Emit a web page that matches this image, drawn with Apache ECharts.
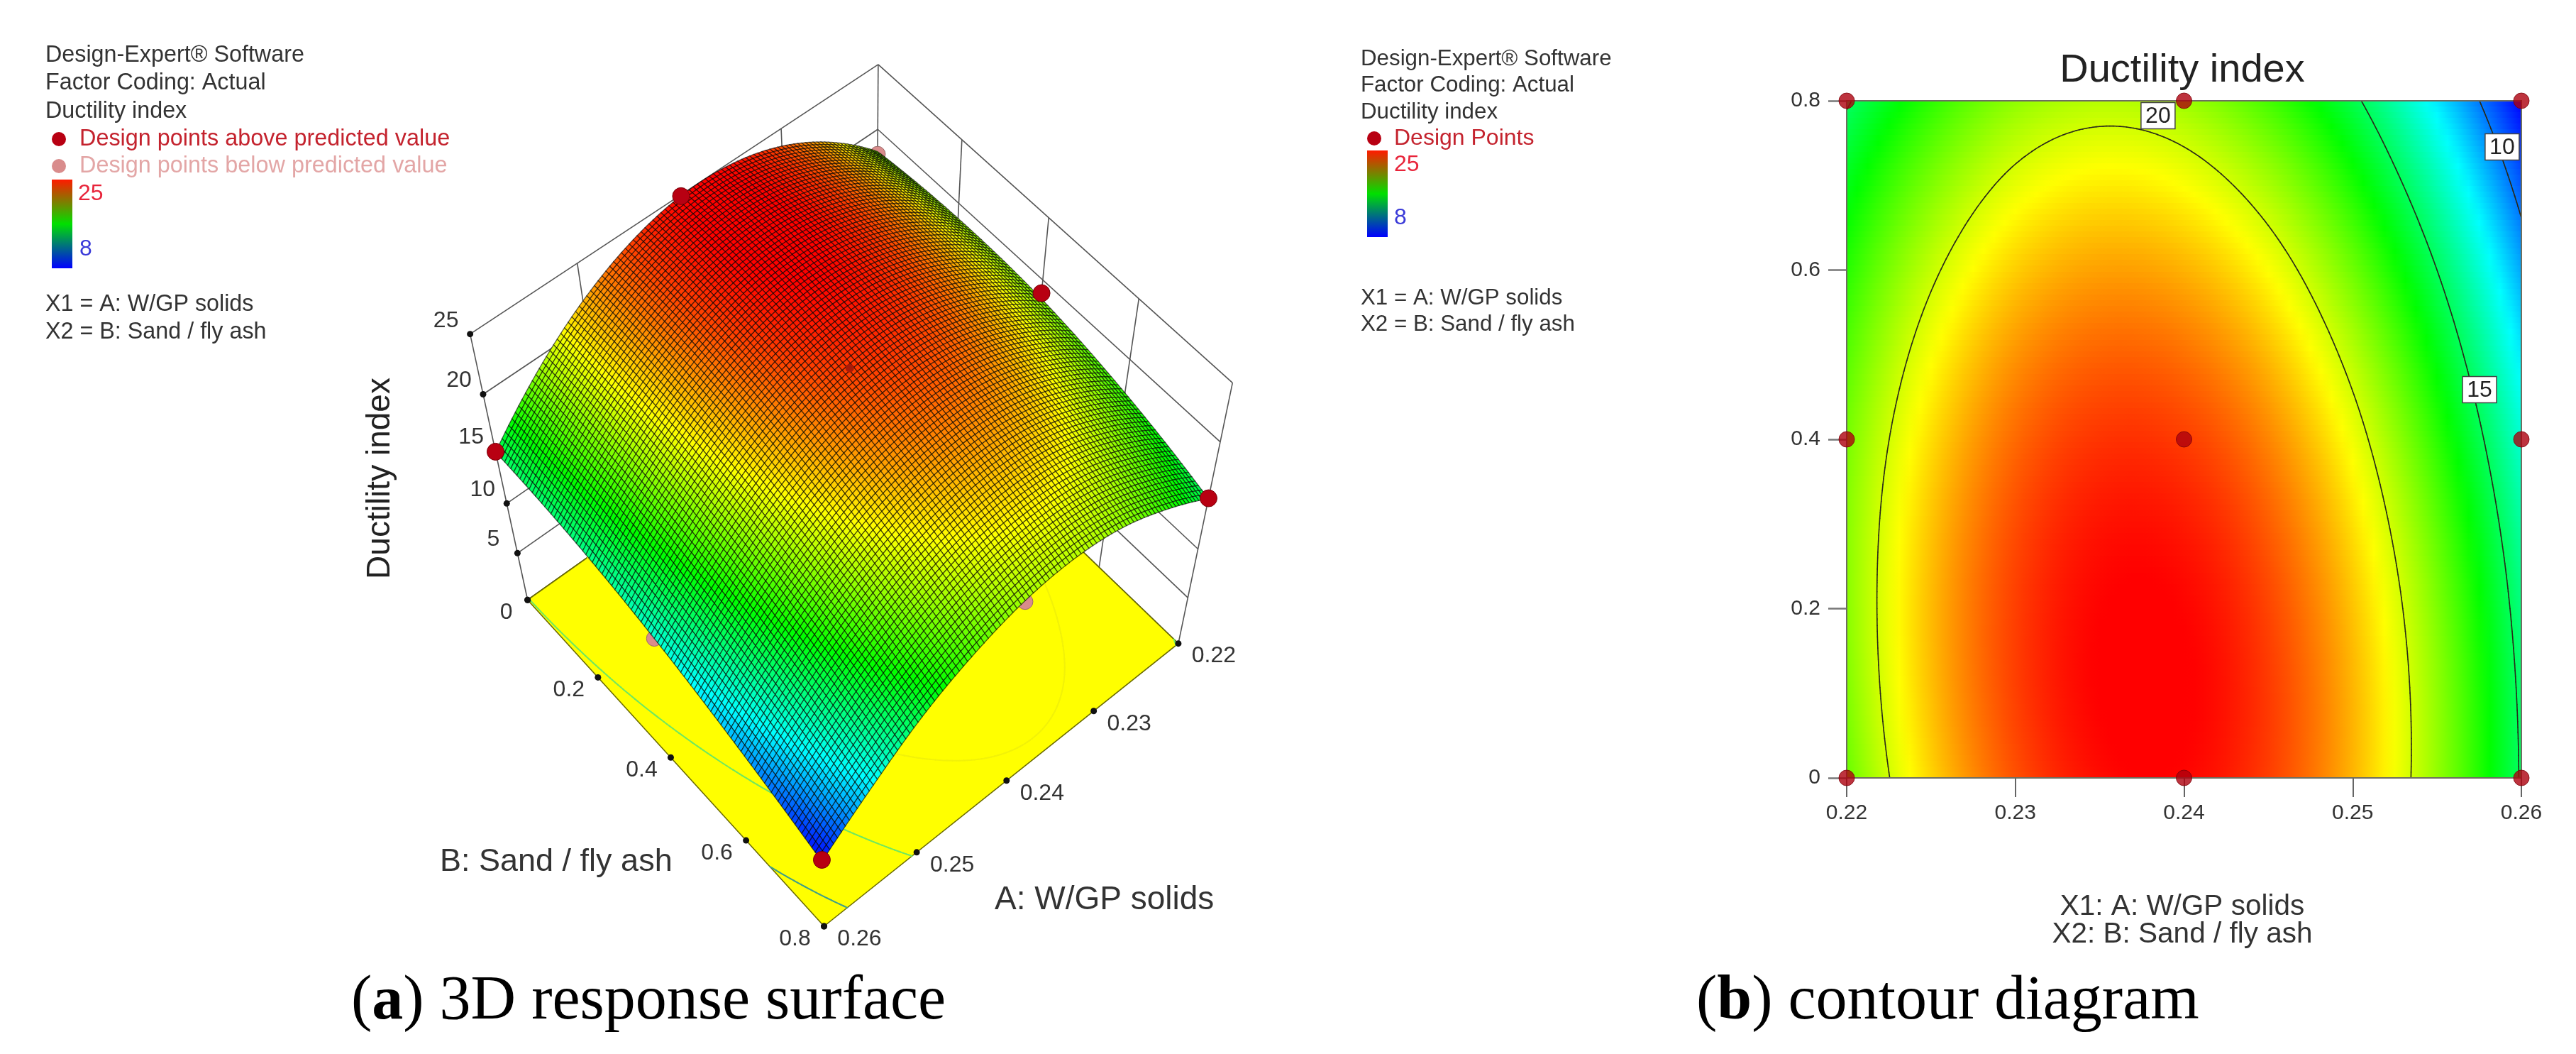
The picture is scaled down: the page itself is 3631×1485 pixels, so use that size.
<!DOCTYPE html>
<html><head><meta charset="utf-8">
<style>html,body{margin:0;padding:0;background:#fff}#c{width:3631px;height:1485px}</style>
<script src="https://cdn.jsdelivr.net/npm/echarts@6/dist/echarts.min.js"></script>
</head><body><div id="c"></div>
<script>
// ---------- values ----------
const aValues = [0.22, 0.225, 0.23, 0.235, 0.24, 0.245, 0.25, 0.255, 0.26];
const bValues = [0, 0.2, 0.4, 0.6, 0.8];
const zAtB00 = [18.21, 21.46, 23.66, 24.81, 24.92, 23.97, 21.98, 18.95, 14.86];
const zAtB02 = [18.76, 21.88, 23.95, 24.97, 24.95, 23.87, 21.75, 18.59, 14.37];
const zAtB04 = [18.45, 21.30, 23.24, 24.14, 23.98, 22.78, 20.53, 17.23, 13.00];
const zAtB06 = [17.10, 19.75, 21.56, 22.32, 22.04, 20.71, 18.33, 15.00, 10.80];
const zAtB08 = [14.85, 17.20, 18.88, 19.51, 19.10, 17.64, 15.30, 11.90, 8.00];
const designA = [0.22, 0.24, 0.26, 0.22, 0.24, 0.26, 0.22, 0.24, 0.26];
const designB = [0, 0, 0, 0.4, 0.4, 0.4, 0.8, 0.8, 0.8];
const designZ = [18.0, 24.9, 14.9, 18.9, 24.2, 13.0, 14.9, 19.0, 8.2];
const designKind = ['below', 'above', 'above', 'above', 'centre', 'below', 'above', 'below', 'above'];
const aTicks = [0.22, 0.23, 0.24, 0.25, 0.26];
const bTicks = [0, 0.2, 0.4, 0.6, 0.8];
const zTicks = [0, 5, 10, 15, 20, 25];
const contourLevels = [10, 15, 20];
const contourLabelA = [0.23846, 0.25752, 0.25886];
const contourLabelB = [0.7824, 0.4587, 0.7455];
const contourLabelText = ['20', '15', '10'];
const colorValues = [8, 12.25, 16.5, 20.75, 25];
const colorRamp = [[0, 0, 255], [0, 255, 255], [0, 255, 0], [255, 255, 0], [255, 0, 0]];

// ---------- shading surface from the table ----------
const zRows = [zAtB00, zAtB02, zAtB04, zAtB06, zAtB08];
const FONT = '"Liberation Sans", Arial, sans-serif';
const SERIF = '"Liberation Serif", "Times New Roman", serif';
const aMin = aValues[0], aMax = aValues[aValues.length - 1];
const bMin = bValues[0], bMax = bValues[bValues.length - 1];
function extend(arr) { const n = arr.length; return [3 * arr[0] - 3 * arr[1] + arr[2], ...arr, 3 * arr[n - 1] - 3 * arr[n - 2] + arr[n - 3]]; }
const ext = (function () {
  const rows = zRows.map(extend);
  const out = [];
  for (let i = 0; i < rows[0].length; i++) { const col = extend(rows.map(r => r[i])); col.forEach((v, j) => { (out[j] = out[j] || [])[i] = v; }); }
  return out;
})();
function cr(p0, p1, p2, p3, t) { return 0.5 * (2 * p1 + (p2 - p0) * t + (2 * p0 - 5 * p1 + 4 * p2 - p3) * t * t + (3 * p1 - p0 - 3 * p2 + p3) * t * t * t); }
function zAt(u, v) {
  const s = Math.min(u * (aValues.length - 1), aValues.length - 1.000001), t = Math.min(v * (bValues.length - 1), bValues.length - 1.000001);
  const i = Math.floor(s), j = Math.floor(t), fs = s - i, ft = t - j, col = [];
  for (let r = 0; r < 4; r++) { const R = ext[j + r]; col.push(cr(R[i], R[i + 1], R[i + 2], R[i + 3], fs)); }
  return cr(col[0], col[1], col[2], col[3], ft);
}
function colorOf(z) {
  if (z <= colorValues[0]) return 'rgb(' + colorRamp[0].join(',') + ')';
  for (let i = 1; i < colorValues.length; i++) {
    if (z <= colorValues[i]) {
      const f = (z - colorValues[i - 1]) / (colorValues[i] - colorValues[i - 1]);
      return 'rgb(' + colorRamp[i].map((c, k) => Math.round(colorRamp[i - 1][k] + (c - colorRamp[i - 1][k]) * f)).join(',') + ')';
    }
  }
  return 'rgb(255,0,0)';
}
function contourSegments(level, nu, nv) {
  const segs = [];
  for (let i = 0; i < nu; i++) for (let j = 0; j < nv; j++) {
    const u0 = i / nu, u1 = (i + 1) / nu, v0 = j / nv, v1 = (j + 1) / nv;
    const c = [[u0, v0], [u1, v0], [u1, v1], [u0, v1]], z = c.map(p => zAt(p[0], p[1]));
    const pts = [];
    for (let k = 0; k < 4; k++) {
      const m = (k + 1) % 4;
      if ((z[k] < level) !== (z[m] < level)) {
        const f = (level - z[k]) / (z[m] - z[k]);
        pts.push([c[k][0] + (c[m][0] - c[k][0]) * f, c[k][1] + (c[m][1] - c[k][1]) * f]);
      }
    }
    if (pts.length === 2) segs.push([pts[0][0], pts[0][1], pts[1][0], pts[1][1], level]);
  }
  return segs;
}
const contour2D = [].concat(...contourLevels.map(l => contourSegments(l, 200, 120)));

// ---------- camera of the 3D panel: screen anchors of the box corners ----------
const cameraAnchors = [
  [1, 0, 0, 742, 845], [1, 1, 0, 1162, 1305], [0, 1, 0, 1659, 907], [0, 0, 0, 1238, 497],
  [1, 0, 1, 664, 471], [0, 1, 1, 1739, 539], [0, 0, 1, 1235, 91]
];
const cam = (function () {
  const rows = [], rhs = [];
  cameraAnchors.forEach(([u, v, w, X, Y]) => {
    rows.push([u, v, w, 1, 0, 0, 0, 0, -X * u, -X * v, -X * w]); rhs.push(X);
    rows.push([0, 0, 0, 0, u, v, w, 1, -Y * u, -Y * v, -Y * w]); rhs.push(Y);
  });
  const n = 11, A = [];
  for (let i = 0; i < n; i++) { A[i] = []; for (let j = 0; j <= n; j++) { let s = 0; rows.forEach((r, k) => { s += r[i] * (j === n ? rhs[k] : r[j]); }); A[i][j] = s; } }
  for (let i = 0; i < n; i++) {
    let p = i; for (let k = i + 1; k < n; k++) if (Math.abs(A[k][i]) > Math.abs(A[p][i])) p = k;
    [A[i], A[p]] = [A[p], A[i]];
    for (let k = 0; k < n; k++) if (k !== i) { const f = A[k][i] / A[i][i]; for (let j = i; j <= n; j++) A[k][j] -= f * A[i][j]; }
  }
  return A.map((r, i) => r[n] / r[i]);
})();
function project(u, v, w) {
  const d = cam[8] * u + cam[9] * v + cam[10] * w + 1;
  return [(cam[0] * u + cam[1] * v + cam[2] * w + cam[3]) / d, (cam[4] * u + cam[5] * v + cam[6] * w + cam[7]) / d];
}
const uOfA = a => (a - aMin) / (aMax - aMin);
const vOfB = b => (b - bMin) / (bMax - bMin);
const wOfZ = z => z / zTicks[zTicks.length - 1];

// ---------- 3D panel marks ----------
const MESH = 100;
const meshCells = [];
for (let i = 0; i < MESH; i++) for (let j = 0; j < MESH; j++) meshCells.push([i, j]);
const wallLines = [];
zTicks.forEach(z => { const w = wOfZ(z); wallLines.push([[1, 0, w], [0, 0, w]], [[0, 0, w], [0, 1, w]]); });
aTicks.forEach(a => { const u = uOfA(a); wallLines.push([[u, 0, 0], [u, 0, 1]]); });
bTicks.slice(1).forEach(b => { const v = vOfB(b); wallLines.push([[0, v, 0], [0, v, 1]]); });
const floorContours = [].concat(...contourLevels.map(l => contourSegments(l, 160, 120)));
const floorContourColor = { 10: '#3f9f88', 15: '#70e860', 20: '#f2f208' };
const tickDots = [];
zTicks.forEach(z => tickDots.push([1, 0, wOfZ(z)]));
bTicks.forEach(b => tickDots.push([1, vOfB(b), 0]));
aTicks.forEach(a => tickDots.push([uOfA(a), 1, 0]));
const labels3D = [];
zTicks.slice(1).forEach(z => labels3D.push({ p: [1, 0, wOfZ(z)], t: String(z), dx: -34, dy: -19 }));
bTicks.forEach((b, i) => labels3D.push({ p: [1, vOfB(b), 0], t: String(b), dx: i === 0 ? -30 : -41, dy: 18 }));
aTicks.forEach(a => labels3D.push({ p: [uOfA(a), 1, 0], t: a.toFixed(2), dx: 50, dy: 18 }));
const designIdx = designA.map((_, i) => i);
const pinkIdx = designIdx.filter(i => designKind[i] === 'below');
const redIdx = designIdx.filter(i => designKind[i] !== 'below');

function idx(list) { return list.map((_, i) => [i]); }
const noneSeries = (z, data, renderItem) => ({ type: 'custom', coordinateSystem: 'none', silent: true, animation: false, z, data, renderItem, progressive: 0 });

const series = [
  noneSeries(1, idx(wallLines), (p) => {
    const l = wallLines[p.dataIndex], a = project(...l[0]), b = project(...l[1]);
    return { type: 'line', shape: { x1: a[0], y1: a[1], x2: b[0], y2: b[1] }, style: { stroke: '#555', lineWidth: 1.6 } };
  }),
  noneSeries(2, [[0]], () => ({
    type: 'polygon', shape: { points: [project(1, 0, 0), project(1, 1, 0), project(0, 1, 0), project(0, 0, 0)] },
    style: { fill: '#ffff00', stroke: '#6b6b00', lineWidth: 1.6 }
  })),
  noneSeries(3, idx(floorContours), (p) => {
    const s = floorContours[p.dataIndex], a = project(s[0], s[1], 0), b = project(s[2], s[3], 0);
    return { type: 'line', shape: { x1: a[0], y1: a[1], x2: b[0], y2: b[1] }, style: { stroke: floorContourColor[s[4]], lineWidth: 2, lineCap: 'round' } };
  }),
  noneSeries(4, idx(pinkIdx), (p) => {
    const i = pinkIdx[p.dataIndex], c = project(uOfA(designA[i]), vOfB(designB[i]), wOfZ(designZ[i]));
    return { type: 'circle', shape: { cx: c[0], cy: c[1], r: 11 }, style: { fill: '#d98c8c', stroke: '#9a6a6a', lineWidth: 1 } };
  }),
  noneSeries(5, meshCells, (p) => {
    const [i, j] = meshCells[p.dataIndex];
    const u0 = i / MESH, u1 = (i + 1) / MESH, v0 = j / MESH, v1 = (j + 1) / MESH;
    const w = (u, v) => project(u, v, wOfZ(zAt(u, v)));
    return {
      type: 'polygon', shape: { points: [w(u0, v0), w(u1, v0), w(u1, v1), w(u0, v1)] },
      style: { fill: colorOf(zAt((u0 + u1) / 2, (v0 + v1) / 2)), stroke: 'rgba(0,0,0,0.6)', lineWidth: 1.3 }
    };
  }),
  noneSeries(6, idx(tickDots), (p) => {
    const c = project(...tickDots[p.dataIndex]);
    return { type: 'circle', shape: { cx: c[0], cy: c[1], r: 4.5 }, style: { fill: '#111' } };
  }),
  noneSeries(7, idx(redIdx), (p) => {
    const i = redIdx[p.dataIndex], c = project(uOfA(designA[i]), vOfB(designB[i]), wOfZ(designZ[i]));
    const centre = designKind[i] === 'centre';
    return { type: 'circle', shape: { cx: c[0], cy: c[1], r: centre ? 6 : 12 }, style: { fill: centre ? '#a81a08' : '#b80012', stroke: '#7a0008', lineWidth: centre ? 0 : 1 } };
  }),
  noneSeries(7, idx(labels3D), (p) => {
    const l = labels3D[p.dataIndex], c = project(...l.p);
    return { type: 'text', style: { text: l.t, x: c[0] + l.dx, y: c[1] + l.dy, align: 'center', verticalAlign: 'middle', font: '32px ' + FONT, fill: '#333' } };
  }),
  // 2D panel: colour field
  {
    type: 'custom', coordinateSystem: 'cartesian2d', silent: true, animation: false, z: 2, progressive: 0,
    data: Array.from({ length: 119 }, (_, i) => [aMin, bMin + (bMax - bMin) * (i + 0.5) / 119]),
    encode: { x: 0, y: 1 },
    renderItem(p, api) {
      const i = p.dataIndex, N = 119;
      const yb = Math.round(api.coord([aMin, bMin + (bMax - bMin) * i / N])[1]);
      const yt = Math.round(api.coord([aMin, bMin + (bMax - bMin) * (i + 1) / N])[1]);
      const xl = api.coord([aMin, 0])[0], xr = api.coord([aMax, 0])[0];
      const v = (i + 0.5) / N, stops = [];
      for (let k = 0; k <= 64; k++) stops.push({ offset: k / 64, color: colorOf(zAt(k / 64, v)) });
      return { type: 'rect', shape: { x: xl, y: yt, width: xr - xl, height: yb - yt }, style: { fill: new echarts.graphic.LinearGradient(0, 0, 1, 0, stops) } };
    }
  },
  {
    type: 'custom', coordinateSystem: 'cartesian2d', silent: true, animation: false, z: 3, progressive: 0,
    data: contour2D.map(s => [aMin + s[0] * (aMax - aMin), bMin + s[1] * (bMax - bMin), aMin + s[2] * (aMax - aMin), bMin + s[3] * (bMax - bMin)]),
    encode: { x: 0, y: 1 },
    renderItem(p, api) {
      const a = api.coord([api.value(0), api.value(1)]), b = api.coord([api.value(2), api.value(3)]);
      return { type: 'line', shape: { x1: a[0], y1: a[1], x2: b[0], y2: b[1] }, style: { stroke: '#2a2a1a', lineWidth: 1.6, lineCap: 'round' } };
    }
  },
  {
    type: 'custom', coordinateSystem: 'cartesian2d', silent: true, animation: false, z: 4,
    data: [[aMin, bMin]], encode: { x: 0, y: 1 },
    renderItem(p, api) {
      const a = api.coord([aMin, bMax]), b = api.coord([aMax, bMin]);
      return { type: 'rect', shape: { x: a[0], y: a[1], width: b[0] - a[0], height: b[1] - a[1] }, style: { fill: 'none', stroke: '#6e6e60', lineWidth: 2 } };
    }
  },
  {
    type: 'scatter', silent: true, animation: false, z: 5, clip: false, symbolSize: 22,
    data: designA.map((a, i) => [a, designB[i]]),
    itemStyle: { color: '#ac000e', borderColor: '#7a0008', borderWidth: 1 }
  },
  {
    type: 'custom', coordinateSystem: 'cartesian2d', silent: true, animation: false, z: 6, clip: false,
    data: contourLabelA.map((a, i) => [a, contourLabelB[i]]),
    encode: { x: 0, y: 1 },
    renderItem(p, api) {
      const c = api.coord([api.value(0), api.value(1)]);
      return {
        type: 'group', children: [
          { type: 'rect', shape: { x: c[0] - 24, y: c[1] - 18.5, width: 48, height: 37 }, style: { fill: '#fff', stroke: '#444', lineWidth: 1.5 } },
          { type: 'text', style: { text: contourLabelText[p.dataIndex], x: c[0], y: c[1] + 1, align: 'center', verticalAlign: 'middle', font: '32px ' + FONT, fill: '#222' } }
        ]
      };
    }
  }
];

const txt = (text, x, y, size, fill, extra) => ({
  type: 'text', silent: true, x, y, z: 20,
  style: Object.assign({ text, font: size + 'px ' + FONT, fill: fill || '#333', verticalAlign: 'middle', align: 'left' }, extra || {})
});
const dot = (x, y, fill) => ({ type: 'circle', silent: true, z: 20, shape: { cx: x, cy: y, r: 10 }, style: { fill } });
const ramp = (x, y, w, h) => ({
  type: 'rect', silent: true, z: 20, shape: { x, y, width: w, height: h },
  style: {
    fill: new echarts.graphic.LinearGradient(0, 0, 0, 1, [
      { offset: 0, color: '#ff1a00' }, { offset: 0.5, color: '#00e000' }, { offset: 1, color: '#0000ff' }
    ])
  }
});
const caption = (x, y, letter, rest) => ({
  type: 'text', silent: true, x, y, z: 20,
  style: {
    text: '{p|(}{b|' + letter + '}{p|) ' + rest + '}', verticalAlign: 'middle', align: 'left',
    rich: { p: { font: '88px ' + SERIF, fill: '#000' }, b: { font: 'bold 88px ' + SERIF, fill: '#000' } }
  }
});
const zTitle = txt('Ductility index', 536, 674, 46, '#222', { align: 'center' });
zTitle.rotation = Math.PI / 2;
const graphicEls = [
  txt('Design-Expert® Software', 64, 78, 32.3), txt('Factor Coding: Actual', 64, 117, 32.3), txt('Ductility index', 64, 157, 32.3),
  dot(83, 196, '#b80012'), txt('Design points above predicted value', 112, 196, 32.4, '#c4232e'),
  dot(83, 234, '#d98c8c'), txt('Design points below predicted value', 112, 234, 32.4, '#e3a6a6'),
  ramp(73, 253, 29, 125), txt('25', 110, 273, 32, '#e8243a'), txt('8', 112, 351, 32, '#3a3ad8'),
  txt('X1 = A: W/GP solids', 64, 429, 32.3), txt('X2 = B: Sand / fly ash', 64, 468, 32.3),
  zTitle,
  txt('B: Sand / fly ash', 620, 1215, 45, '#333'), txt('A: W/GP solids', 1402, 1268, 46, '#333'),
  caption(495, 1412, 'a', '3D response surface'),
  txt('Design-Expert® Software', 1918, 83, 31.3), txt('Factor Coding: Actual', 1918, 120, 31.3), txt('Ductility index', 1918, 158, 31.3),
  dot(1937, 195, '#b80012'), txt('Design Points', 1965, 195, 32, '#c4232e'),
  ramp(1927, 212, 29, 122), txt('25', 1965, 232, 32, '#e8243a'), txt('8', 1965, 307, 32, '#3a3ad8'),
  txt('X1 = A: W/GP solids', 1918, 420, 31.3), txt('X2 = B: Sand / fly ash', 1918, 457, 31.3),
  txt('Ductility index', 3076, 100, 56, '#222', { align: 'center' }),
  txt('X1: A: W/GP solids', 3076, 1278, 40.5, '#333', { align: 'center' }),
  txt('X2: B: Sand / fly ash', 3076, 1317, 40.5, '#333', { align: 'center' }),
  caption(2391, 1412, 'b', 'contour diagram')
];

const chart = echarts.init(document.getElementById('c'), null, { renderer: 'canvas', width: 3631, height: 1485 });
chart.setOption({
  backgroundColor: '#fff', animation: false, tooltip: { show: false },
  grid: { left: 2603, top: 142, width: 951, height: 954, containLabel: false },
  xAxis: {
    type: 'value', min: 0.22, max: 0.26, interval: 0.01, splitLine: { show: false },
    axisLine: { show: false }, axisTick: { show: true, length: 27, lineStyle: { color: '#333', width: 1.5 } },
    axisLabel: { margin: 35, fontFamily: 'Liberation Sans', fontSize: 30, color: '#333', formatter: v => v.toFixed(2) }
  },
  yAxis: {
    type: 'value', min: 0, max: 0.8, interval: 0.2, splitLine: { show: false },
    axisLine: { show: false }, axisTick: { show: true, length: 26, lineStyle: { color: '#777', width: 2.5 } },
    axisLabel: { margin: 37, fontFamily: 'Liberation Sans', fontSize: 30, color: '#333', formatter: v => String(+v.toFixed(1)) }
  },
  graphic: graphicEls,
  series
});
</script></body></html>
